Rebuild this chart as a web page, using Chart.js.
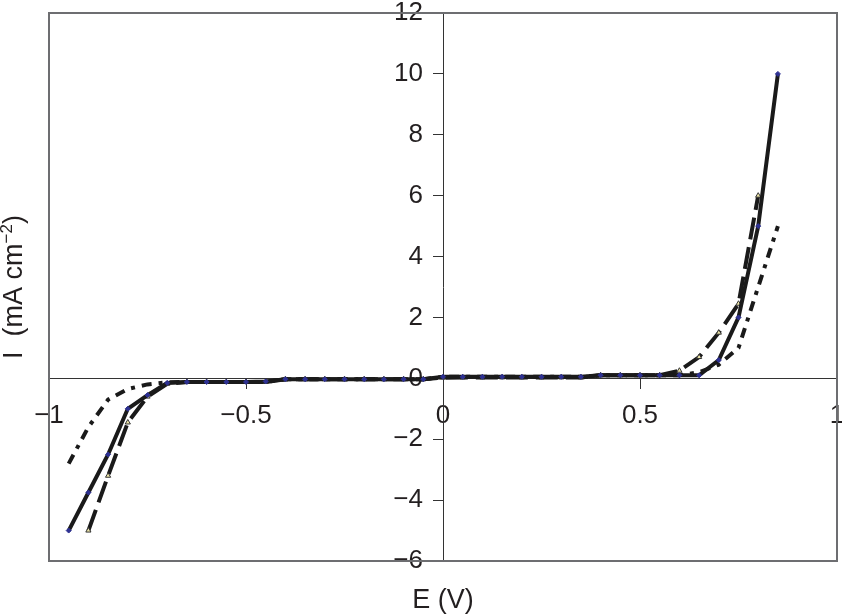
<!DOCTYPE html>
<html>
<head>
<meta charset="utf-8">
<script src="https://cdn.jsdelivr.net/npm/chart.js"></script>
<style>
  html, body { margin: 0; padding: 0; background: #fff; }
</style>
</head>
<body>
<canvas id="myChart" width="842" height="616"></canvas>
<script>
// potential E (V), shared by all three curves
const potential = [-0.95, -0.9, -0.85, -0.8, -0.75, -0.7, -0.65, -0.6, -0.55, -0.5,
  -0.45, -0.4, -0.35, -0.3, -0.25, -0.2, -0.15, -0.1, -0.05, 0,
  0.05, 0.1, 0.15, 0.2, 0.25, 0.3, 0.35, 0.4, 0.45, 0.5,
  0.55, 0.6, 0.65, 0.7, 0.75, 0.8, 0.85];

// current density I (mA cm-2)
const currentSolid = [-5.0, -3.75, -2.5, -1.0, -0.55, -0.15, -0.12, -0.12, -0.12, -0.12,
  -0.1, -0.03, -0.03, -0.03, -0.03, -0.03, -0.03, -0.03, -0.03, 0.05,
  0.05, 0.05, 0.05, 0.05, 0.05, 0.05, 0.05, 0.1, 0.1, 0.1,
  0.1, 0.1, 0.1, 0.6, 2.0, 5.0, 10.0];
const currentDashed = [null, -5.0, -3.2, -1.45, -0.6, -0.18, -0.12, -0.12, -0.12, -0.12,
  -0.12, -0.03, -0.03, -0.03, -0.03, -0.03, -0.03, -0.03, -0.03, 0.02,
  0.03, 0.03, 0.03, 0.03, 0.03, 0.03, 0.03, 0.1, 0.1, 0.1,
  0.1, 0.25, 0.7, 1.5, 2.45, 6.0, null];
const currentDotted = [-2.8, -1.6, -0.7, -0.35, -0.2, -0.13, -0.12, -0.12, -0.12, -0.12,
  -0.12, -0.03, -0.03, -0.03, -0.03, -0.03, -0.03, -0.03, -0.03, 0.05,
  0.05, 0.05, 0.05, 0.05, 0.05, 0.05, 0.05, 0.1, 0.1, 0.1,
  0.1, 0.1, 0.2, 0.45, 1.0, 3.0, 5.0];

const xTicks = [-1, -0.5, 0, 0.5, 1];
const yTicks = [-6, -4, -2, 0, 2, 4, 6, 8, 10, 12];

const FONT = '"Liberation Sans", Arial, Helvetica, sans-serif';
const TEXT = '#231f20';

function toPoints(ys) {
  const pts = [];
  potential.forEach((x, i) => { if (ys[i] !== null) pts.push({ x: x, y: ys[i] }); });
  return pts;
}
function minus(v) {
  return (v < 0 ? '\u2212' : '') + Math.abs(v);
}

// grey frame round the plot area
const frame = {
  id: 'frame',
  beforeDatasetsDraw(chart) {
    const { ctx, chartArea: a } = chart;
    ctx.save();
    ctx.strokeStyle = '#6d6e71';
    ctx.lineWidth = 2;
    ctx.strokeRect(a.left, a.top, a.right - a.left, a.bottom - a.top);
    ctx.restore();
  }
};

// axis titles sit at the edges, not on the centred axes
const titles = {
  id: 'titles',
  afterDraw(chart) {
    const ctx = chart.ctx;
    ctx.save();
    ctx.fillStyle = TEXT;
    ctx.font = '27px ' + FONT;
    ctx.textAlign = 'center';
    ctx.textBaseline = 'middle';
    ctx.fillText('E (V)', chart.scales.x.getPixelForValue(0), 601);

    const a = 'I  (mA cm', sup = '\u22122', b = ')';
    ctx.textAlign = 'left';
    ctx.textBaseline = 'alphabetic';
    const wa = ctx.measureText(a).width, wb = ctx.measureText(b).width;
    ctx.font = '17px ' + FONT;
    const ws = ctx.measureText(sup).width;
    const total = wa + ws + wb;
    ctx.translate(22, 287);
    ctx.rotate(-Math.PI / 2);
    let x = -total / 2;
    ctx.font = '27px ' + FONT;
    ctx.fillText(a, x, 0);
    x += wa;
    ctx.font = '17px ' + FONT;
    ctx.fillText(sup, x, -10);
    x += ws;
    ctx.font = '27px ' + FONT;
    ctx.fillText(b, x, 0);
    ctx.restore();
  }
};

new Chart(document.getElementById('myChart'), {
  type: 'scatter',
  data: {
    datasets: [
      {
        label: 'solid',
        data: toPoints(currentSolid),
        showLine: true,
        borderColor: '#1a1a1a',
        borderWidth: 4,
        pointStyle: 'rectRot',
        pointRadius: 2.5,
        pointBackgroundColor: '#2e3192',
        pointBorderColor: '#2e3192',
        pointBorderWidth: 1
      },
      {
        label: 'dashed',
        data: toPoints(currentDashed),
        showLine: true,
        borderColor: '#1a1a1a',
        borderWidth: 4,
        borderDash: [22, 8],
        pointStyle: 'triangle',
        pointRadius: 3,
        pointBackgroundColor: '#ede5a8',
        pointBorderColor: '#333',
        pointBorderWidth: 1
      },
      {
        label: 'dotted',
        data: toPoints(currentDotted),
        showLine: true,
        borderColor: '#1a1a1a',
        borderWidth: 4,
        borderDash: [10, 7, 4, 7],
        pointRadius: 0
      }
    ]
  },
  options: {
    responsive: false,
    animation: false,
    layout: { padding: { left: 49, top: 13, right: 5, bottom: 55 } },
    plugins: { legend: { display: false }, tooltip: { enabled: false } },
    scales: {
      x: {
        type: 'linear',
        position: { y: 0 },
        min: -1,
        max: 1,
        afterFit(s) { s.paddingLeft = 0; s.paddingRight = 0; },
        afterBuildTicks(s) { s.ticks = xTicks.map(v => ({ value: v })); },
        grid: { drawOnChartArea: false, tickLength: 10, color: '#333', lineWidth: 1 },
        border: { display: true, color: '#333', width: 1 },
        ticks: {
          autoSkip: false,
          maxRotation: 0,
          padding: 12,
          color: TEXT,
          font: { family: FONT, size: 26 },
          callback: v => minus(v)
        }
      },
      y: {
        type: 'linear',
        // x runs -1..1, so the centre of the plot is E = 0
        position: 'center',
        min: -6,
        max: 12,
        afterFit(s) { s.paddingTop = 0; s.paddingBottom = 0; },
        afterBuildTicks(s) { s.ticks = yTicks.map(v => ({ value: v })); },
        grid: { drawOnChartArea: false, tickLength: 10, color: '#333', lineWidth: 1 },
        border: { display: true, color: '#333', width: 1 },
        ticks: {
          autoSkip: false,
          padding: 10,
          color: TEXT,
          font: { family: FONT, size: 26 },
          callback: v => minus(v)
        }
      }
    }
  },
  plugins: [frame, titles]
});
</script>
</body>
</html>
